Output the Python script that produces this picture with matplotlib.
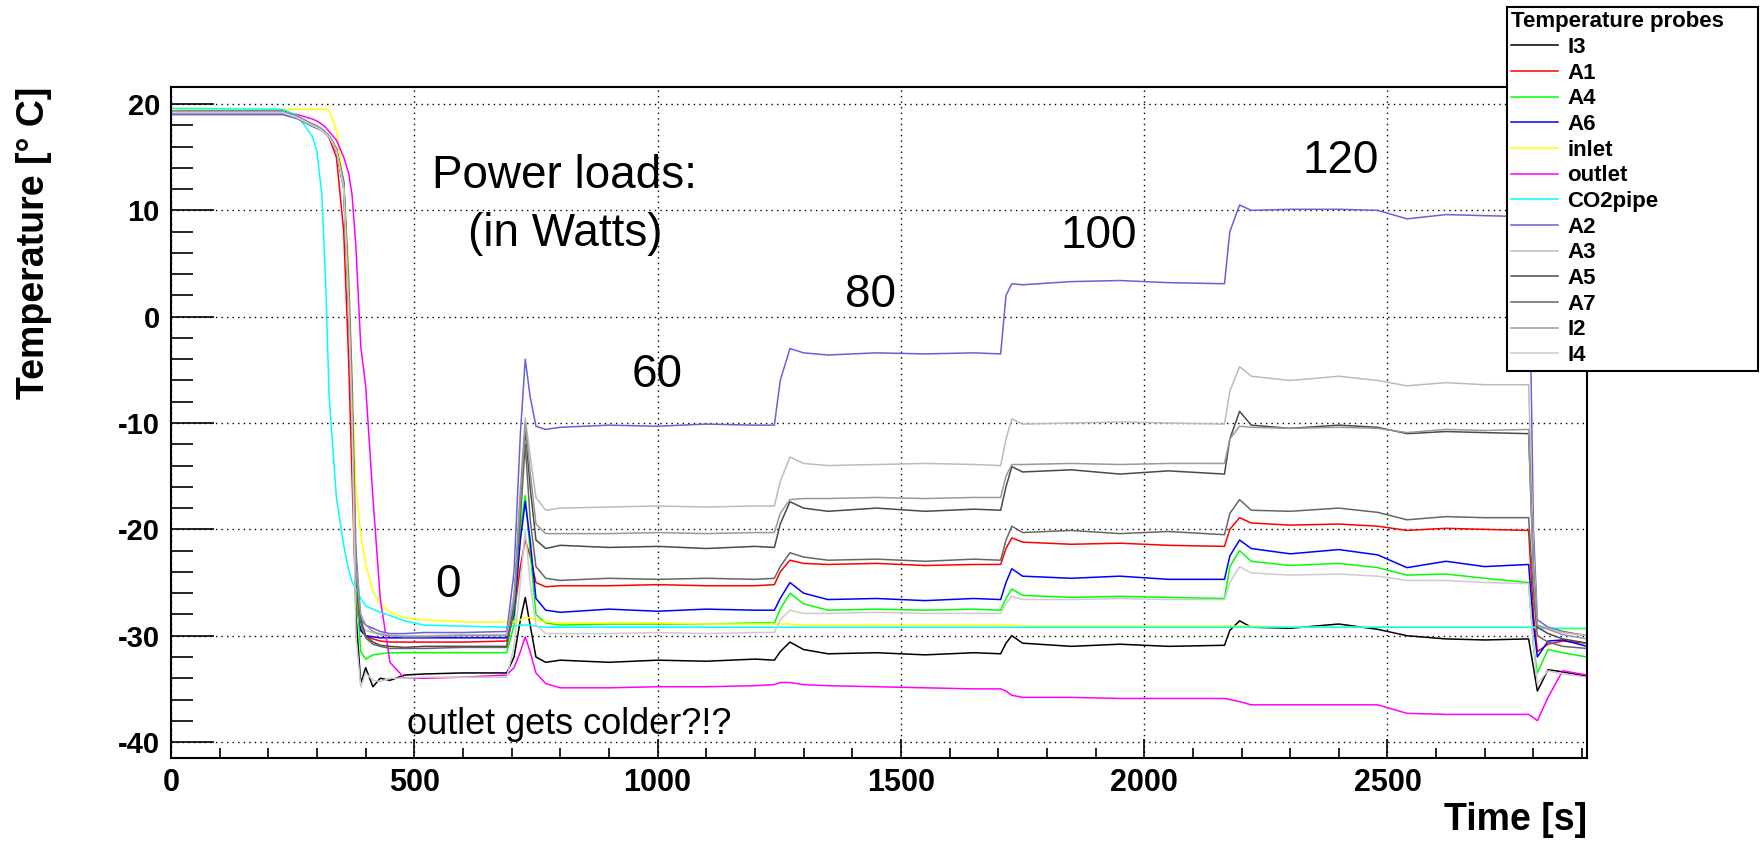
import matplotlib
matplotlib.use("Agg")
import matplotlib.pyplot as plt
from matplotlib.ticker import MultipleLocator

plt.rcParams['font.family'] = ['Liberation Sans', 'DejaVu Sans']
plt.rcParams['axes.unicode_minus'] = False

# time axis shared by all probes [s]
time_s = [0, 230, 260, 290, 300, 310, 318, 325, 340, 355, 365, 372, 380, 390,
          400, 415, 430, 450, 480, 520, 600, 690,
          705, 718, 728, 738, 750, 770, 800, 900, 1000, 1100, 1200, 1240,
          1252, 1272, 1300, 1350, 1450, 1550, 1650, 1705,
          1716, 1728, 1750, 1850, 1950, 2050, 2165,
          2176, 2196, 2220, 2300, 2400, 2480, 2540, 2620, 2700, 2790,
          2800, 2808, 2830, 2860, 2910]

# temperatures [deg C]
I3 = [19.2, 19.2, 18.8, 18.1, 17.9, 17.6, 17.3, 17.0, 15.6, 12.0, 1.0, -10.0, -28.0, -34.5,
      -33.0, -34.8, -34.0, -34.2, -33.7, -33.6, -33.5, -33.5,
      -32.0, -28.5, -26.4, -29.0, -32.0, -32.5, -32.3, -32.5, -32.3, -32.4, -32.2, -32.3,
      -31.5, -30.6, -31.3, -31.7, -31.6, -31.8, -31.6, -31.7,
      -30.7, -30.0, -30.7, -31.0, -30.8, -31.0, -30.9,
      -29.5, -28.6, -29.2, -29.3, -28.9, -29.4, -30.0, -30.3, -30.4, -30.3,
      -33.0, -35.2, -33.2, -33.4, -33.8]
A1 = [19.3, 19.3, 18.8, 18.1, 17.9, 17.6, 17.3, 16.8, 15.0, 8.0, -4.0, -15.0, -27.0, -29.5,
      -30.0, -30.3, -30.5, -30.6, -30.6, -30.6, -30.6, -30.5,
      -28.0, -23.5, -21.0, -22.5, -25.0, -25.4, -25.3, -25.3, -25.2, -25.3, -25.3, -25.2,
      -24.0, -22.9, -23.2, -23.3, -23.2, -23.4, -23.3, -23.3,
      -21.8, -20.8, -21.2, -21.4, -21.3, -21.5, -21.6,
      -20.0, -18.9, -19.4, -19.6, -19.5, -19.7, -20.1, -19.9, -20.0, -20.1,
      -28.0, -31.5, -30.8, -30.5, -30.7]
A4 = [19.3, 19.3, 18.8, 18.1, 17.9, 17.6, 17.3, 17.0, 15.8, 12.5, 1.0, -9.0, -25.0, -31.5,
      -32.2, -31.8, -31.7, -31.6, -31.6, -31.6, -31.6, -31.6,
      -29.0, -20.0, -16.8, -22.0, -28.0, -28.8, -29.0, -28.9, -28.9, -28.9, -28.8, -28.8,
      -27.5, -26.0, -27.0, -27.6, -27.5, -27.6, -27.5, -27.6,
      -26.5, -25.6, -26.2, -26.4, -26.3, -26.4, -26.5,
      -23.5, -22.0, -23.0, -23.4, -23.2, -23.6, -24.3, -24.2, -24.6, -25.0,
      -31.0, -33.5, -31.3, -31.6, -32.0]
A6 = [19.2, 19.2, 18.7, 18.0, 17.8, 17.5, 17.2, 16.9, 15.6, 12.2, 1.5, -9.0, -24.0, -29.5,
      -30.0, -30.1, -30.2, -30.2, -30.2, -30.2, -30.2, -30.2,
      -28.0, -21.0, -17.4, -21.0, -26.5, -27.6, -27.8, -27.5, -27.7, -27.5, -27.6, -27.6,
      -26.5, -25.0, -26.0, -26.6, -26.5, -26.7, -26.5, -26.6,
      -25.0, -23.7, -24.4, -24.6, -24.4, -24.7, -24.7,
      -22.5, -21.0, -21.8, -22.3, -21.9, -22.4, -23.6, -23.0, -23.5, -23.3,
      -29.0, -32.0, -30.5, -30.4, -31.0]
inlet = [19.5, 19.5, 19.5, 19.5, 19.5, 19.5, 19.5, 19.4, 17.5, 12.5, 5.0, -5.5, -16.0, -20.5,
         -23.2, -25.8, -27.0, -27.8, -28.3, -28.5, -28.7, -28.7,
         -28.7, -28.5, -28.3, -28.3, -28.5, -28.7, -28.8, -28.8, -28.8, -28.9, -28.9, -28.9,
         -28.9, -28.9, -29.0, -29.0, -29.0, -29.0, -29.0, -29.0,
         -29.0, -29.0, -29.1, -29.1, -29.1, -29.1, -29.1,
         -29.1, -29.1, -29.1, -29.2, -29.2, -29.2, -29.2, -29.2, -29.2, -29.2,
         -29.2, -29.3, -29.3, -29.4, -29.4]
outlet = [19.3, 19.3, 19.0, 18.6, 18.4, 18.1, 17.8, 17.4, 16.6, 15.0, 13.5, 11.5, 6.6, -2.8,
          -6.5, -17.0, -26.5, -32.5, -34.0, -34.0, -33.9, -33.7,
          -33.0, -31.5, -30.1, -31.5, -33.5, -34.5, -34.9, -34.9, -34.8, -34.8, -34.7, -34.6,
          -34.4, -34.4, -34.6, -34.7, -34.8, -34.9, -35.0, -35.0,
          -35.2, -35.6, -35.8, -35.8, -35.9, -35.9, -35.9,
          -36.0, -36.2, -36.5, -36.5, -36.5, -36.5, -37.3, -37.4, -37.4, -37.4,
          -37.7, -38.0, -35.8, -33.3, -33.7]
CO2pipe = [19.6, 19.5, 18.9, 17.0, 15.5, 11.5, 3.0, -7.5, -17.0, -21.5, -23.8, -24.9, -25.6, -26.5,
           -27.2, -27.5, -27.8, -28.1, -28.6, -29.0, -29.1, -29.2,
           -29.1, -29.0, -29.0, -29.0, -29.1, -29.2, -29.2, -29.2, -29.2, -29.2, -29.2, -29.2,
           -29.2, -29.2, -29.2, -29.2, -29.2, -29.2, -29.2, -29.2,
           -29.2, -29.2, -29.2, -29.2, -29.2, -29.2, -29.2,
           -29.2, -29.2, -29.2, -29.2, -29.2, -29.2, -29.2, -29.2, -29.2, -29.2,
           -29.2, -29.3, -29.3, -29.3, -29.3]
A2 = [19.0, 19.0, 18.6, 17.9, 17.7, 17.5, 17.2, 16.9, 15.7, 12.8, 3.5, -6.0, -22.0, -28.5,
      -29.0, -29.3, -29.6, -29.8, -29.8, -29.7, -29.7, -29.6,
      -24.0, -11.0, -4.0, -7.5, -10.3, -10.6, -10.4, -10.2, -10.3, -10.1, -10.2, -10.2,
      -6.0, -3.0, -3.4, -3.6, -3.4, -3.5, -3.4, -3.5,
      2.0, 3.1, 3.0, 3.3, 3.4, 3.2, 3.1,
      8.0, 10.5, 10.0, 10.1, 10.1, 10.0, 9.2, 9.6, 9.5, 9.4,
      -20.0, -28.5, -29.2, -29.6, -30.0]
A3 = [19.2, 19.2, 18.7, 18.0, 17.8, 17.5, 17.2, 16.9, 15.7, 12.4, 2.0, -8.0, -23.0, -29.0,
      -29.5, -29.7, -29.8, -29.9, -30.0, -30.0, -29.9, -29.9,
      -26.0, -16.0, -9.5, -13.0, -17.0, -18.2, -18.0, -17.9, -17.8, -17.9, -17.8, -17.8,
      -15.5, -13.2, -13.8, -14.0, -13.9, -13.8, -13.9, -14.0,
      -11.5, -9.6, -10.1, -10.0, -9.9, -10.0, -10.1,
      -7.0, -4.7, -5.6, -6.0, -5.6, -6.0, -6.5, -6.2, -6.4, -6.4,
      -22.0, -29.0, -29.3, -29.7, -30.0]
A5 = [19.3, 19.3, 18.8, 18.1, 17.9, 17.6, 17.3, 17.0, 15.8, 12.5, 2.0, -8.0, -24.0, -28.5,
      -30.0, -30.6, -30.9, -31.0, -31.1, -31.0, -31.0, -31.0,
      -27.0, -17.5, -10.5, -16.0, -21.0, -21.8, -21.5, -21.7, -21.6, -21.8, -21.6, -21.7,
      -19.5, -17.4, -18.0, -18.3, -18.0, -18.3, -18.1, -18.2,
      -16.0, -14.1, -14.6, -14.4, -14.8, -14.5, -14.8,
      -11.5, -8.9, -10.2, -10.5, -10.2, -10.4, -11.0, -10.8, -10.9, -11.0,
      -24.0, -29.2, -29.8, -30.3, -30.7]
A7 = [19.3, 19.3, 18.8, 18.1, 17.9, 17.6, 17.3, 17.0, 15.8, 12.5, 2.0, -8.0, -24.0, -28.8,
      -30.2, -30.8, -31.0, -31.2, -31.2, -31.2, -31.1, -31.1,
      -27.5, -19.0, -12.0, -19.0, -23.5, -24.6, -24.8, -24.6, -24.7, -24.6, -24.7, -24.6,
      -23.5, -22.2, -22.6, -22.9, -22.8, -23.0, -22.8, -22.9,
      -21.0, -19.7, -20.3, -20.1, -20.4, -20.2, -20.5,
      -18.5, -17.2, -18.2, -18.3, -18.0, -18.4, -19.1, -18.8, -18.9, -18.9,
      -26.0, -30.0, -30.6, -31.0, -31.2]
I2 = [19.3, 19.3, 18.8, 18.1, 17.9, 17.6, 17.3, 17.0, 15.8, 12.5, 2.0, -8.0, -24.0, -28.0,
      -29.0, -29.6, -29.9, -30.0, -30.1, -30.1, -30.0, -30.0,
      -26.5, -17.0, -10.0, -14.5, -19.5, -20.4, -20.4, -20.4, -20.3, -20.4, -20.3, -20.3,
      -18.5, -17.2, -17.1, -17.1, -17.0, -17.1, -17.0, -17.0,
      -15.0, -13.9, -13.9, -13.8, -13.9, -13.8, -13.8,
      -11.5, -10.3, -10.4, -10.5, -10.4, -10.5, -10.9, -10.6, -10.7, -10.6,
      -24.0, -29.0, -29.4, -29.9, -30.3]
I4 = [19.2, 19.2, 18.7, 18.0, 17.8, 17.5, 17.2, 16.9, 15.6, 12.0, 1.0, -10.0, -30.0, -34.8,
      -33.5, -34.2, -34.3, -34.0, -34.0, -33.9, -33.9, -33.9,
      -31.0, -25.0, -20.0, -25.0, -29.0, -29.8, -29.8, -29.8, -29.7, -29.8, -29.7, -29.7,
      -28.5, -27.6, -27.9, -27.9, -27.8, -27.9, -27.9, -27.9,
      -27.0, -26.3, -26.6, -26.6, -26.5, -26.6, -26.6,
      -25.0, -23.5, -24.1, -24.3, -24.2, -24.4, -24.8, -24.8, -25.0, -25.1,
      -31.0, -34.5, -33.3, -33.6, -33.9]

probe_names = ['I3', 'A1', 'A4', 'A6', 'inlet', 'outlet', 'CO2pipe',
               'A2', 'A3', 'A5', 'A7', 'I2', 'I4']
probe_data = [I3, A1, A4, A6, inlet, outlet, CO2pipe, A2, A3, A5, A7, I2, I4]
probe_colors = ['#000000', '#ff0000', '#00ff00', '#0000ff', '#ffff00', '#ff00ff',
                '#00ffff', '#6661dd', '#c2b9b0', '#4a4a4a', '#666666', '#999999',
                '#cccccc']

# power load annotations (W) with their text anchor in data coords
load_labels = ['Power loads:', '(in Watts)', '0', '60', '80', '100', '120']
load_x = [536, 610, 543, 947, 1385, 1827, 2326]
load_y = [12.1, 6.65, -26.4, -6.6, 0.9, 6.46, 13.5]

W, H = 1760, 841
fig = plt.figure(figsize=(W / 100, H / 100), dpi=100)
ax = fig.add_axes([171 / W, 83 / H, 1416 / W, 671 / H])

for name, vals, c in zip(probe_names, probe_data, probe_colors):
    ax.plot(time_s, vals, color=c, lw=1.1, label=name)

ax.set_xlim(0, 2910)
ax.set_ylim(-41.5, 21.6)
ax.xaxis.set_major_locator(MultipleLocator(500))
ax.xaxis.set_minor_locator(MultipleLocator(100))
ax.yaxis.set_major_locator(MultipleLocator(10))
ax.yaxis.set_minor_locator(MultipleLocator(2))
ax.grid(True, which='major', color='black', linestyle=(0, (1, 3)), linewidth=1.0)

ax.tick_params(axis='both', which='both', direction='in', width=1.2, color='black')
ax.tick_params(axis='y', which='major', length=31, pad=8, labelsize=21)
ax.tick_params(axis='y', which='minor', length=16)
ax.tick_params(axis='x', which='major', length=14, pad=7, labelsize=22)
ax.tick_params(axis='x', which='minor', length=7)
for lab in ax.get_xticklabels() + ax.get_yticklabels():
    lab.set_fontweight('bold')
for sp in ax.spines.values():
    sp.set_linewidth(1.5)

ax.set_xlabel('Time [s]', loc='right', fontsize=27, fontweight='bold')
ax.xaxis.set_label_coords(1.0, -0.066)
ax.set_ylabel('Temperature [° C]', loc='top', fontsize=27, fontweight='bold')
ax.yaxis.set_label_coords(-0.084, 1.0)

for txt, x, y in zip(load_labels, load_x, load_y):
    ax.text(x, y, txt, fontsize=33, ha='left', va='baseline')
ax.text(485, -39.25, 'outlet gets colder?!?', fontsize=26, ha='left', va='baseline')

leg = fig.legend(loc='upper left', bbox_to_anchor=(1507 / W, 0, 251 / W, 834 / H),
                 mode='expand', borderaxespad=0, title='Temperature probes',
                 title_fontproperties={'weight': 'bold', 'size': 16}, alignment='left',
                 prop={'weight': 'bold', 'size': 16}, handlelength=2.1,
                 handletextpad=0.4, labelspacing=0.21, borderpad=0.2,
                 fancybox=False, framealpha=1, edgecolor='black')
leg.get_frame().set_linewidth(1.5)

fig.savefig('out.png', dpi=100)
